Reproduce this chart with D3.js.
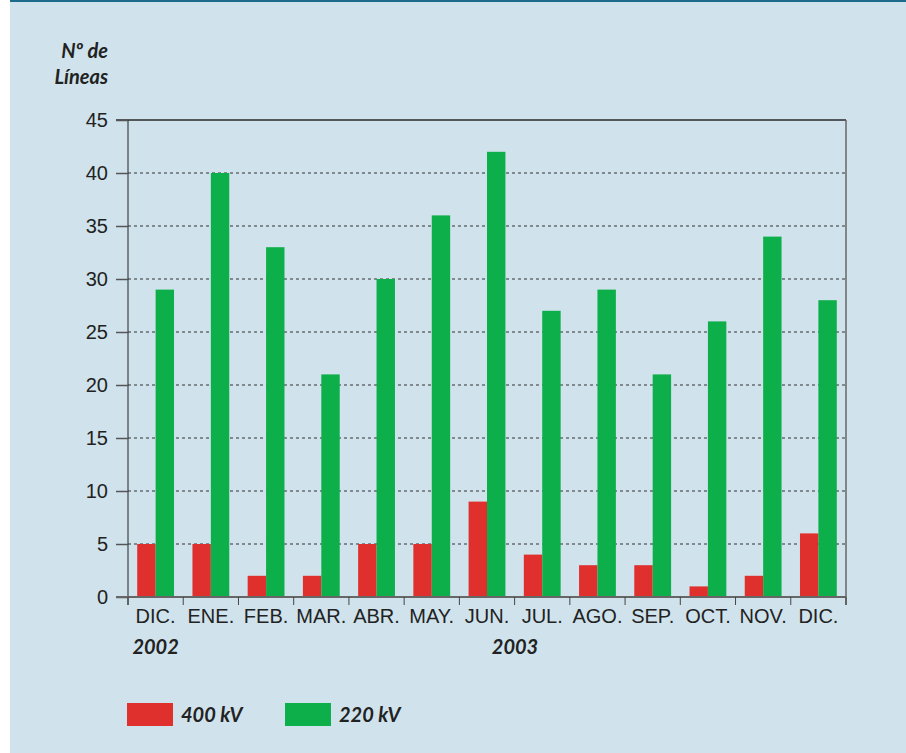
<!DOCTYPE html>
<html>
<head>
<meta charset="utf-8">
<script src="https://cdn.jsdelivr.net/npm/d3@7"></script>
<style>
  body { margin: 0; background: #fff; }
  svg { display: block; font-family: Lato, "Open Sans", sans-serif; }
</style>
</head>
<body>
<div id="main"></div>
<script>
var months = ["DIC.", "ENE.", "FEB.", "MAR.", "ABR.", "MAY.", "JUN.", "JUL.", "AGO.", "SEP.", "OCT.", "NOV.", "DIC."];
var kv400 = [5, 5, 2, 2, 5, 5, 9, 4, 3, 3, 1, 2, 6];
var kv220 = [29, 40, 33, 21, 30, 36, 42, 27, 29, 21, 26, 34, 28];
var yTicks = [0, 5, 10, 15, 20, 25, 30, 35, 40, 45];
var seriesNames = ["400 kV", "220 kV"];
var seriesColors = ["#e0302e", "#0caf4a"];

var w = 906, h = 753;
var pLeft = 128, pRight = 846, pTop = 120, pBottom = 597;

var svg = d3.select("#main").append("svg")
  .attr("width", w)
  .attr("height", h);

// panel background
svg.append("rect")
  .attr("x", 10).attr("y", 0)
  .attr("width", w - 10).attr("height", h)
  .attr("fill", "#d0e3ec");
svg.append("rect")
  .attr("x", 10).attr("y", 0)
  .attr("width", w - 10).attr("height", 2)
  .attr("fill", "#1d6b8c");

var x = d3.scaleBand()
  .domain(d3.range(months.length))
  .range([pLeft, pRight]);

var x1 = d3.scaleBand()
  .domain([0, 1])
  .range([0, x.bandwidth()])
  .paddingOuter(0.5);

var y = d3.scaleLinear()
  .domain([0, 45])
  .range([pBottom, pTop]);

// grid lines
svg.selectAll(".grid")
  .data(yTicks.filter(function (d) { return d > 0 && d < 45; }))
  .enter().append("line")
  .attr("x1", pLeft).attr("x2", pRight)
  .attr("y1", function (d) { return y(d); })
  .attr("y2", function (d) { return y(d); })
  .attr("stroke", "#333")
  .attr("stroke-width", 1)
  .attr("stroke-dasharray", "3,3");

// bars
var groups = svg.selectAll(".grp")
  .data(months.map(function (m, i) { return [kv400[i], kv220[i]]; }))
  .enter().append("g")
  .attr("transform", function (d, i) { return "translate(" + x(i) + ",0)"; });

groups.selectAll("rect")
  .data(function (d) { return d; })
  .enter().append("rect")
  .attr("x", function (d, i) { return x1(i); })
  .attr("width", x1.bandwidth())
  .attr("y", function (d) { return y(d); })
  .attr("height", function (d) { return pBottom - y(d); })
  .attr("fill", function (d, i) { return seriesColors[i]; });

// frame
svg.append("line")
  .attr("x1", pLeft - 12).attr("x2", pRight)
  .attr("y1", pTop).attr("y2", pTop)
  .attr("stroke", "#2a2a2a").attr("stroke-width", 1.5);
svg.append("line")
  .attr("x1", pRight).attr("x2", pRight)
  .attr("y1", pTop).attr("y2", pBottom + 8)
  .attr("stroke", "#666").attr("stroke-width", 1.5);

// y axis
var yAxis = svg.append("g")
  .attr("transform", "translate(" + pLeft + ",0)")
  .call(d3.axisLeft(y).tickValues(yTicks).tickSize(12).tickPadding(8));
yAxis.select(".domain").attr("stroke", "#222").attr("d", "M0," + pTop + "V" + (pBottom + 8));
yAxis.selectAll(".tick line").attr("stroke", "#555").attr("stroke-width", 1.5);
yAxis.selectAll(".tick text")
  .attr("font-size", 20)
  .attr("fill", "#222");

// x axis
var xAxis = svg.append("g")
  .attr("transform", "translate(0," + pBottom + ")")
  .call(d3.axisBottom(x).tickFormat(function (i) { return months[i]; }).tickSize(0));
xAxis.select(".domain").remove();
xAxis.selectAll(".tick text")
  .attr("y", 26).attr("dy", null)
  .attr("font-size", 20)
  .attr("fill", "#222");

svg.append("line")
  .attr("x1", pLeft - 12).attr("x2", pRight)
  .attr("y1", pBottom).attr("y2", pBottom)
  .attr("stroke", "#666").attr("stroke-width", 2);

svg.selectAll(".xsep")
  .data(d3.range(months.length + 1))
  .enter().append("line")
  .attr("x1", function (i) { return pLeft + i * x.step(); })
  .attr("x2", function (i) { return pLeft + i * x.step(); })
  .attr("y1", pBottom).attr("y2", pBottom + 8)
  .attr("stroke", "#444").attr("stroke-width", 1);

// years
svg.append("text")
  .attr("x", x(0) + x.bandwidth() / 2).attr("y", 654)
  .attr("text-anchor", "middle")
  .attr("font-size", 20).attr("font-weight", "bold").attr("font-style", "italic")
  .attr("fill", "#222")
  .text("2002");
svg.append("text")
  .attr("x", x(6) + x.bandwidth() / 2 + 28).attr("y", 654)
  .attr("text-anchor", "middle")
  .attr("font-size", 20).attr("font-weight", "bold").attr("font-style", "italic")
  .attr("fill", "#222")
  .text("2003");

// axis title
var title = svg.append("text")
  .attr("text-anchor", "end")
  .attr("font-size", 20).attr("font-weight", "bold").attr("font-style", "italic")
  .attr("fill", "#222");
title.append("tspan").attr("x", 108).attr("y", 58).text("Nº de");
title.append("tspan").attr("x", 108).attr("y", 84).text("Líneas");

// legend
var legend = svg.selectAll(".legend")
  .data(seriesNames)
  .enter().append("g")
  .attr("transform", function (d, i) { return "translate(" + (127 + i * 158) + ",703)"; });
legend.append("rect")
  .attr("width", 46).attr("height", 23)
  .attr("fill", function (d, i) { return seriesColors[i]; });
legend.append("text")
  .attr("x", 54).attr("y", 19)
  .attr("font-size", 20).attr("font-weight", "bold").attr("font-style", "italic")
  .attr("fill", "#222")
  .text(function (d) { return d; });
</script>
</body>
</html>
